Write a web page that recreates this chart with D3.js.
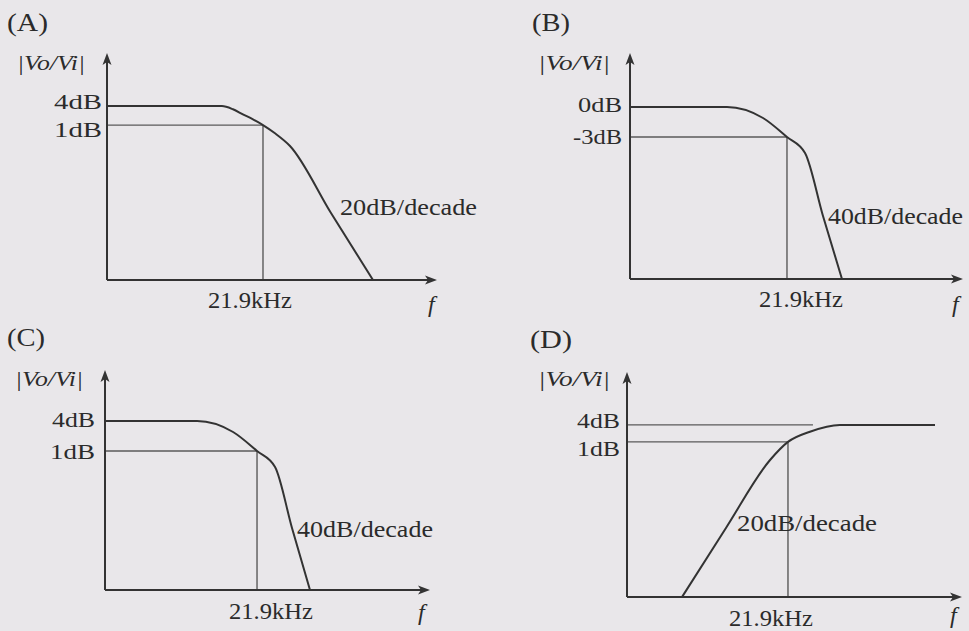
<html>
<head>
  <style>
  body { margin: 0; background: #e9e7ea; }
  #chart text {
    fill: #2b2b2b;
    font-family: "Liberation Serif", "Times New Roman", Times, serif;
  }
  </style>
  <script src="https://d3js.org/d3.v7.min.js"></script>
</head>
<body>
  <svg id="chart"></svg>
</body>
  <script>
  // ---- data ----
  var panelLabels = ["(A)", "(B)", "(C)", "(D)"];
  var yAxisLabel = "|Vo/Vi|";
  var xAxisLabel = "f";
  var cutoffKHz = 21.9;
  var cutoffLabel = "21.9kHz";
  // dB ticks on each vertical axis and their labels
  var tickDb = [[4, 1], [0, -3], [4, 1], [4, 1]];
  var tickLabels = [["4dB", "1dB"], ["0dB", "-3dB"], ["4dB", "1dB"], ["4dB", "1dB"]];
  var slopeLabels = ["20dB/decade", "40dB/decade", "40dB/decade", "20dB/decade"];
  // response curves, [frequency kHz, gain dB]
  var curveA = [[0.219, 4], [6.52, 4], [9.03, 3.5], [12.1, 2.7], [16.3, 1.9], [21.9, 1], [31.2, -0.3], [48.6, -2.3], [163, -12.9], [563, -23.5]];
  var curveB = [[0.213, 0], [3.73, 0], [10.8, -1.1], [21.9, -3], [37.3, -4.6], [63.4, -10.9], [111, -17.2]];
  var curveC = [[0.246, 4], [3.73, 4], [10.8, 2.9], [21.9, 1], [37.3, -0.6], [61.5, -6.7], [104.6, -12.9]];
  var curveD = [[0.959, -26.4], [3.51, -14.2], [12.9, -2.2], [21.9, 1], [41.9, 2.8], [101.6, 4], [1680, 4]];
  // horizontal guide lines: [dB, end frequency kHz]
  var guidesA = [[1, 21.9]];
  var guidesB = [[-3, 21.9]];
  var guidesC = [[1, 21.9]];
  var guidesD = [[4, 45.8], [1, 21.9]];
  // axis domains
  var xDomains = [[0.219, 3727], [0.213, 3950], [0.246, 3620], [0.189, 3730]];
  var yDomains = [[-23.5, 12.4], [-17.2, 5.4], [-12.9, 9.1], [-26.4, 13.35]];

  var curves = [curveA, curveB, curveC, curveD];
  var guides = [guidesA, guidesB, guidesC, guidesD];

  // ---- layout (pixels) ----
  var width = 969, height = 631;
  var layout = [
    { x0: 107, x1: 437, y0: 280, y1: 53,  title: [7, 31, 41],  yl: [17, 70, 68],  tickX: 102, tickDy: [3, 12], tickW: [48, 48],
      cut: [250, 308], slope: [340, 215, 137], f: [428, 312] },
    { x0: 630, x1: 963, y0: 279, y1: 53,  title: [532, 31, 38], yl: [538, 70, 72], tickX: 622, tickDy: [5, 7], tickW: [44, 49],
      cut: [801, 307], slope: [828, 224, 135], f: [952, 312] },
    { x0: 105, x1: 430, y0: 590, y1: 370, title: [7, 346, 38], yl: [15, 386, 68], tickX: 95, tickDy: [6, 8], tickW: [43, 45],
      cut: [271, 619], slope: [297, 537, 136], f: [418, 620] },
    { x0: 627, x1: 962, y0: 597, y1: 372, title: [530, 348, 42], yl: [538, 386, 72], tickX: 620, tickDy: [3, 14], tickW: [43, 43],
      cut: [771, 626], slope: [737, 531, 140], f: [950, 623] }
  ];

  var ink = "#333";
  var thin = "#5a5a5a";
  var serif = '"Liberation Serif", "Times New Roman", Times, serif';

  var svg = d3.select("#chart")
      .attr("width", width)
      .attr("height", height);

  svg.append("rect").attr("width", width).attr("height", height).attr("fill", "#e9e7ea");

  layout.forEach(function(L, i) {
    var x = d3.scaleLog().domain(xDomains[i]).range([L.x0, L.x1]);
    var y = d3.scaleLinear().domain(yDomains[i]).range([L.y0, L.y1]);
    var g = svg.append("g").attr("font-family", serif);

    // guide lines and cutoff drop line
    g.selectAll("line.guide")
        .data(guides[i])
      .enter().append("line")
        .attr("x1", x(xDomains[i][0]))
        .attr("x2", function(d) { return x(d[1]); })
        .attr("y1", function(d) { return y(d[0]); })
        .attr("y2", function(d) { return y(d[0]); })
        .attr("stroke", thin).attr("stroke-width", 1.4);
    var cutDb = tickDb[i][1];
    g.append("line")
        .attr("x1", x(cutoffKHz)).attr("x2", x(cutoffKHz))
        .attr("y1", y(yDomains[i][0])).attr("y2", y(cutDb))
        .attr("stroke", thin).attr("stroke-width", 1.4);

    // response curve
    g.append("path")
        .datum(curves[i])
        .attr("fill", "none")
        .attr("stroke", ink)
        .attr("stroke-width", 2)
        .attr("stroke-linejoin", "round")
        .attr("d", d3.line()
            .x(function(d) { return x(d[0]); })
            .y(function(d) { return y(d[1]); })
            .curve(d3.curveMonotoneX));

    // axes with arrow heads
    var ax0 = x(xDomains[i][0]), ay0 = y(yDomains[i][0]);
    var axEnd = x(xDomains[i][1]), ayEnd = y(yDomains[i][1]);
    g.append("line").attr("x1", ax0).attr("x2", ax0).attr("y1", ay0).attr("y2", ayEnd + 6)
        .attr("stroke", ink).attr("stroke-width", 2);
    g.append("line").attr("x1", ax0).attr("x2", axEnd - 6).attr("y1", ay0).attr("y2", ay0)
        .attr("stroke", ink).attr("stroke-width", 2);
    g.append("path")
        .attr("d", "M" + ax0 + "," + ayEnd + "l-4.5,12l4.5,-3l4.5,3z")
        .attr("fill", ink);
    g.append("path")
        .attr("d", "M" + axEnd + "," + ay0 + "l-12,-4.5l3,4.5l-3,4.5z")
        .attr("fill", ink);

    // texts
    g.append("text")
        .attr("x", L.title[0]).attr("y", L.title[1])
        .attr("font-size", 25)
        .attr("textLength", L.title[2]).attr("lengthAdjust", "spacingAndGlyphs")
        .text(panelLabels[i]);
    g.append("text")
        .attr("x", L.yl[0]).attr("y", L.yl[1])
        .attr("font-size", 22).attr("font-style", "italic")
        .attr("textLength", L.yl[2]).attr("lengthAdjust", "spacingAndGlyphs")
        .text(yAxisLabel);
    g.selectAll("text.tick")
        .data(tickDb[i])
      .enter().append("text")
        .attr("x", L.tickX)
        .attr("y", function(d, k) { return y(d) + L.tickDy[k]; })
        .attr("text-anchor", "end")
        .attr("font-size", 22)
        .attr("textLength", function(d, k) { return L.tickW[k]; })
        .attr("lengthAdjust", "spacingAndGlyphs")
        .text(function(d, k) { return tickLabels[i][k]; });
    g.append("text")
        .attr("x", L.cut[0]).attr("y", L.cut[1])
        .attr("text-anchor", "middle")
        .attr("font-size", 24)
        .attr("textLength", 84).attr("lengthAdjust", "spacingAndGlyphs")
        .text(cutoffLabel);
    g.append("text")
        .attr("x", L.slope[0]).attr("y", L.slope[1])
        .attr("font-size", 24)
        .attr("textLength", L.slope[2]).attr("lengthAdjust", "spacingAndGlyphs")
        .text(slopeLabels[i]);
    g.append("text")
        .attr("x", L.f[0]).attr("y", L.f[1])
        .attr("font-size", 24).attr("font-style", "italic")
        .text(xAxisLabel);
  });
  </script>
</html>
